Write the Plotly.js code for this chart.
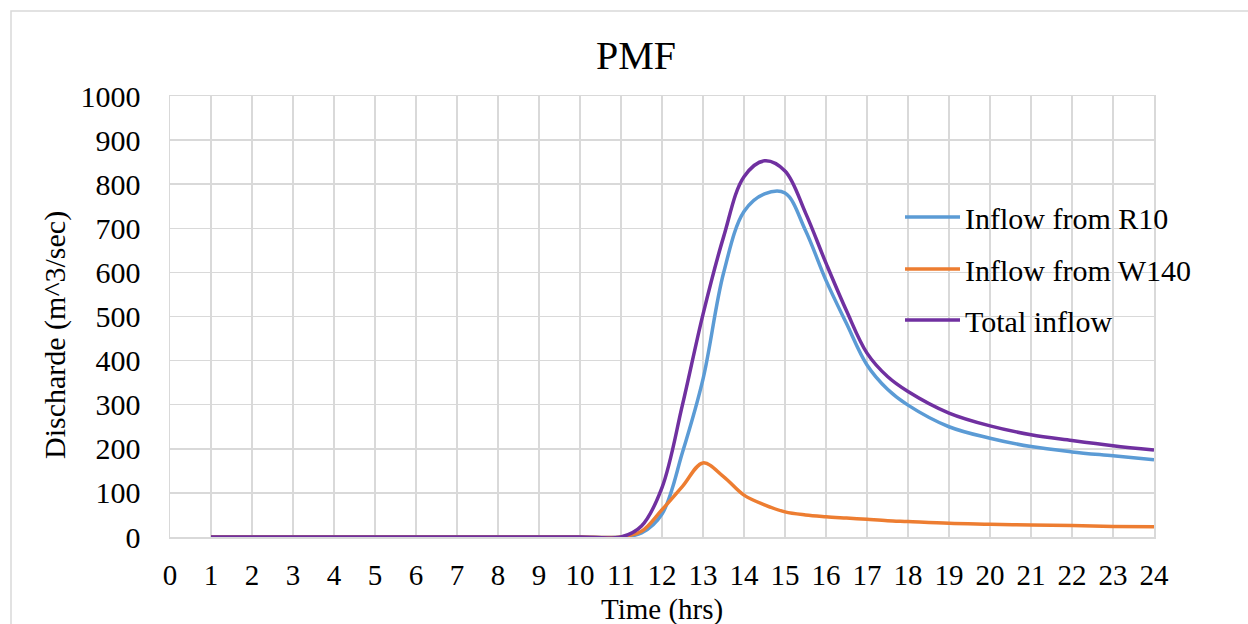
<!DOCTYPE html>
<html>
<head>
<meta charset="utf-8">
<script src="https://cdn.plot.ly/plotly-3.0.1.min.js"></script>
<style>
  html, body { margin: 0; padding: 0; background: #ffffff; }
  #chart { width: 1248px; height: 624px; }
</style>
</head>
<body>
<div id="chart"></div>
<script>
// ---- Data ----
const hours      = [1, 2, 3, 4, 5, 6, 7, 8, 9, 10, 11, 11.5, 12, 12.5, 13, 13.5, 14, 14.5, 15, 15.5, 16, 16.5, 17, 17.5, 18, 19, 20, 21, 22, 23, 24];
const inflowR10  = [0, 0, 0, 0, 0, 0, 0, 0, 0, 0, 0, 9, 52, 192, 358, 598, 738, 778, 780, 695, 582, 484, 390, 335, 299, 250, 224, 205, 193, 184, 175];
const inflowW140 = [0, 0, 0, 0, 0, 0, 0, 0, 0, 0, 0, 13, 62, 115, 168, 137, 95, 73, 57, 50, 46, 43, 40, 37, 35, 31, 29, 27, 26, 24, 23];
const totalInflow = [0, 0, 0, 0, 0, 0, 0, 0, 0, 0, 0, 25, 112, 300, 505, 680, 817, 853, 830, 735, 621, 513, 417, 364, 330, 281, 252, 232, 219, 207, 197];
const seriesNames = ["Inflow from R10", "Inflow from W140", "Total inflow"];
const seriesColors = ["#5B9BD5", "#ED7D31", "#7030A0"];
const chartTitle = "PMF";
const xTitle = "Time (hrs)";
const yTitle = "Discharde (m^3/sec)";

const FONT = "Liberation Serif";
const GRID = "#d9d9d9";

const allSeries = [inflowR10, inflowW140, totalInflow];
const legendIds = ["legend", "legend2", "legend3"];
const traces = allSeries.map((vals, i) => ({
  x: hours,
  y: vals,
  type: "scatter",
  mode: "lines",
  name: seriesNames[i],
  legend: legendIds[i],
  line: { color: seriesColors[i], width: 3.5, shape: "spline", smoothing: 1 },
  hoverinfo: "x+y+name"
}));

function legendAt(centerY) {
  return {
    x: (900 - 170) / 984,
    xanchor: "left",
    y: (537 - centerY) / 441,
    yanchor: "middle",
    bgcolor: "rgba(0,0,0,0)",
    borderwidth: 0,
    font: { family: FONT, size: 30, color: "#000000" },
    itemwidth: 55
  };
}

const layout = {
  width: 1248,
  height: 624,
  paper_bgcolor: "#ffffff",
  plot_bgcolor: "#ffffff",
  margin: { l: 170, r: 94, t: 96, b: 87 },
  font: { family: FONT, color: "#000000", size: 30 },
  title: {
    text: chartTitle,
    font: { family: FONT, size: 40, color: "#000000" },
    x: 636 / 1248, xref: "container", xanchor: "center",
    y: 1 - 55 / 624, yref: "container", yanchor: "middle"
  },
  xaxis: {
    range: [0, 24],
    dtick: 1,
    tick0: 0,
    showgrid: true,
    gridcolor: GRID,
    gridwidth: 1.5,
    showline: true,
    linecolor: GRID,
    linewidth: 1.5,
    mirror: true,
    zeroline: false,
    ticks: "outside",
    ticklen: 12,
    tickcolor: "rgba(0,0,0,0)",
    tickfont: { family: FONT, size: 29, color: "#000000" }
  },
  yaxis: {
    range: [0, 1000],
    dtick: 100,
    tick0: 0,
    showgrid: true,
    gridcolor: GRID,
    gridwidth: 1.5,
    showline: true,
    linecolor: GRID,
    linewidth: 1.5,
    mirror: true,
    zeroline: false,
    ticks: "outside",
    ticklen: 22,
    tickcolor: "rgba(0,0,0,0)",
    tickfont: { family: FONT, size: 30, color: "#000000" }
  },
  showlegend: true,
  legend: legendAt(217),
  legend2: legendAt(269),
  legend3: legendAt(320),
  annotations: [
    {
      text: xTitle, showarrow: false,
      xref: "paper", yref: "paper",
      x: 0.5, xanchor: "center",
      y: (537 - 609) / 441, yanchor: "middle",
      font: { family: FONT, size: 29, color: "#000000" }
    },
    {
      text: yTitle, showarrow: false, textangle: -90,
      xref: "paper", yref: "paper",
      x: (55 - 170) / 984, xanchor: "center",
      y: (537 - 335) / 441, yanchor: "middle",
      font: { family: FONT, size: 30, color: "#000000" }
    }
  ],
  shapes: [{
    type: "rect",
    xref: "paper", yref: "paper",
    x0: (11 - 170) / 984, x1: 1.3,
    y0: -0.4, y1: (537 - 11) / 441,
    line: { color: GRID, width: 1.5 },
    fillcolor: "rgba(0,0,0,0)",
    layer: "below"
  }]
};

Plotly.newPlot("chart", traces, layout, { displayModeBar: false, staticPlot: true });
</script>
</body>
</html>
